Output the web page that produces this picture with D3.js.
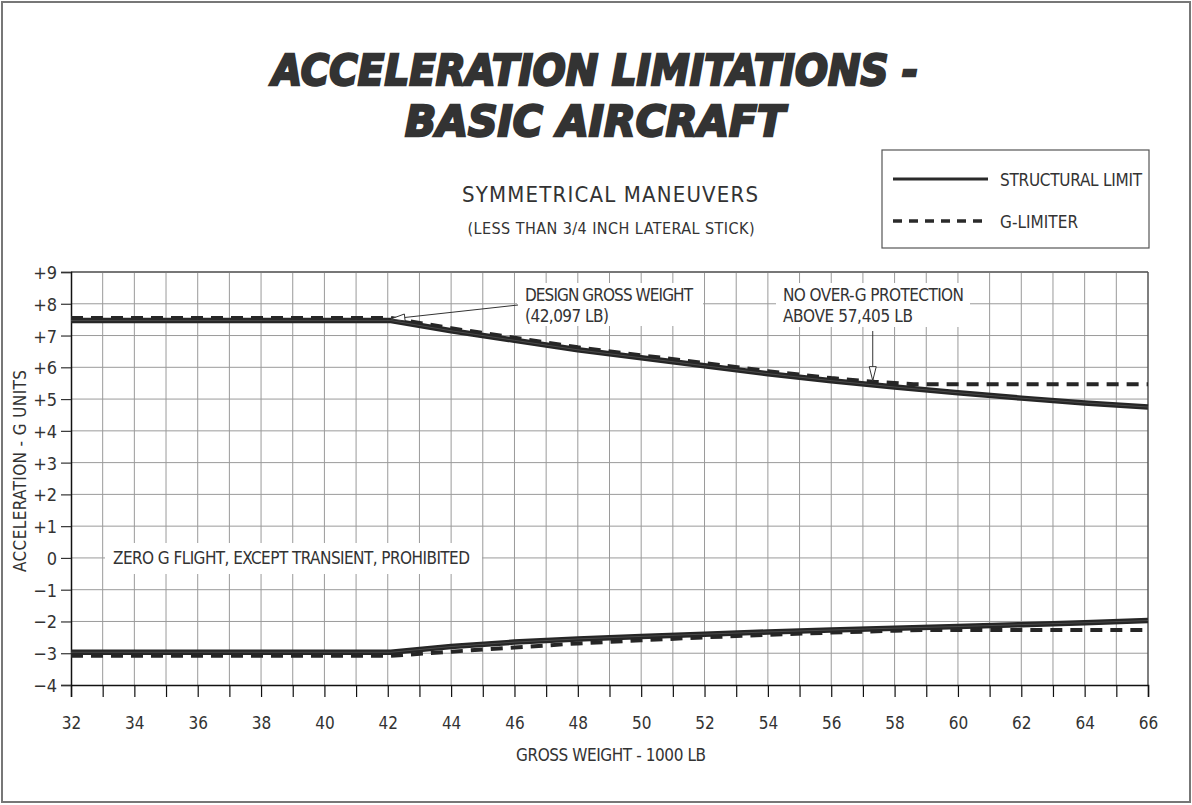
<!DOCTYPE html>
<html>
<head>
<meta charset="utf-8">
<script src="https://cdn.jsdelivr.net/npm/d3@7.9.0/dist/d3.min.js"></script>
<style>
  html, body { margin: 0; padding: 0; background: #fff; }
  svg text { font-family: 'Liberation Sans Narrow', 'DejaVu Sans Condensed', 'Roboto', sans-serif; fill: #333; }
</style>
</head>
<body>
<svg id="chart" width="1192" height="805"></svg>
<script>
// gross weight (1000 lb) vs load factor (g)
const structuralUpperW = [32, 42.1, 44, 46, 48, 50, 52, 54, 56, 58, 60, 62, 64, 66];
const structuralUpperG = [7.47, 7.47, 7.15, 6.85, 6.55, 6.3, 6.05, 5.8, 5.58, 5.38, 5.2, 5.03, 4.88, 4.75];

const limiterUpperW = [32, 42.1, 44, 46, 48, 50, 52, 54, 56, 57.4, 58.6, 66];
const limiterUpperG = [7.55, 7.55, 7.23, 6.93, 6.63, 6.38, 6.13, 5.88, 5.66, 5.54, 5.47, 5.47];

const structuralLowerW = [32, 42.1, 44, 46, 48, 50, 52, 54, 56, 58, 60, 62, 64, 66];
const structuralLowerG = [-2.97, -2.97, -2.79, -2.65, -2.55, -2.47, -2.4, -2.33, -2.27, -2.21, -2.16, -2.1, -2.04, -1.97];

const limiterLowerW = [32, 42.1, 44, 46, 48, 50, 52, 54, 56, 58, 59, 66];
const limiterLowerG = [-3.08, -3.08, -2.95, -2.82, -2.69, -2.59, -2.5, -2.42, -2.35, -2.29, -2.27, -2.27];

const xTicks = d3.range(32, 67, 2);
const yTicks = d3.range(-4, 10, 1);
const designGrossWeight = 42.097;
const overGLimitWeight = 57.405;

const svg = d3.select('#chart');
const width = 1192, height = 805;
const area = { left: 71, right: 1148, top: 272, bottom: 685 };

const x = d3.scaleLinear().domain([32, 66]).range([area.left, area.right]);
const y = d3.scaleLinear().domain([-4, 9]).range([area.bottom, area.top]);

// outer border
svg.append('rect')
  .attr('x', 2).attr('y', 2).attr('width', width - 4).attr('height', height - 5)
  .attr('fill', 'none').attr('stroke', '#777').attr('stroke-width', 2);

// title
const title = svg.append('g')
  .attr('font-weight', 'bold').attr('font-style', 'italic');
[['ACCELERATION  LIMITATIONS  -', 85, 646], ['BASIC  AIRCRAFT', 136, 380]].forEach(([t, ty, len]) => {
  title.append('text')
    .attr('x', 595).attr('y', ty)
    .attr('text-anchor', 'middle')
    .attr('textLength', len).attr('lengthAdjust', 'spacingAndGlyphs')
    .style('font-family', "'DejaVu Sans', sans-serif")
    .style('font-size', '43.5px')
    .style('fill', '#333').style('stroke', '#333').style('stroke-width', 2.5)
    .text(t);
});

svg.append('text')
  .attr('x', 610).attr('y', 202).attr('text-anchor', 'middle')
  .attr('textLength', 296).attr('lengthAdjust', 'spacing')
  .style('font-size', '22px').text('SYMMETRICAL MANEUVERS');
svg.append('text')
  .attr('x', 611).attr('y', 234).attr('text-anchor', 'middle')
  .attr('textLength', 287).attr('lengthAdjust', 'spacing')
  .style('font-size', '16px').text('(LESS THAN 3/4 INCH LATERAL STICK)');

// legend
const legend = svg.append('g');
legend.append('rect')
  .attr('x', 882).attr('y', 150).attr('width', 267).attr('height', 98)
  .attr('fill', '#fff').attr('stroke', '#555').attr('stroke-width', 1.2);
legend.append('line').attr('x1', 893).attr('x2', 988).attr('y1', 179).attr('y2', 179)
  .attr('stroke', '#2a2a2a').attr('stroke-width', 3);
legend.append('line').attr('x1', 893).attr('x2', 988).attr('y1', 221).attr('y2', 221)
  .attr('stroke', '#2a2a2a').attr('stroke-width', 3.5).attr('stroke-dasharray', '9,7');
legend.append('text').attr('x', 1000).attr('y', 186)
  .attr('textLength', 142).attr('lengthAdjust', 'spacing')
  .style('font-size', '17px').text('STRUCTURAL LIMIT');
legend.append('text').attr('x', 1000).attr('y', 228)
  .attr('textLength', 78).attr('lengthAdjust', 'spacing')
  .style('font-size', '17px').text('G-LIMITER');

// grid
const grid = svg.append('g').attr('stroke', '#9a9a9a').attr('stroke-width', 1);
grid.selectAll('line.v')
  .data(d3.range(33, 66, 1))
  .join('line')
  .attr('class', 'v')
  .attr('x1', d => x(d)).attr('x2', d => x(d))
  .attr('y1', area.top).attr('y2', area.bottom);
grid.selectAll('line.h')
  .data(d3.range(-3, 9, 1))
  .join('line')
  .attr('class', 'h')
  .attr('x1', area.left).attr('x2', area.right)
  .attr('y1', d => y(d)).attr('y2', d => y(d));

// frame: top and right in gray
svg.append('line').attr('x1', area.left).attr('x2', area.right)
  .attr('y1', area.top).attr('y2', area.top)
  .attr('stroke', '#777').attr('stroke-width', 2);
svg.append('line').attr('x1', area.right).attr('x2', area.right)
  .attr('y1', area.top).attr('y2', area.bottom)
  .attr('stroke', '#555').attr('stroke-width', 1.5);

// white boxes behind annotation text (they break the grid)
const boxes = [
  [517, 283, 186, 43],
  [776, 283, 194, 44],
  [105, 543, 377, 31],
];
svg.append('g').selectAll('rect')
  .data(boxes)
  .join('rect')
  .attr('x', d => d[0]).attr('y', d => d[1])
  .attr('width', d => d[2]).attr('height', d => d[3])
  .attr('fill', '#fff');

// axes
const xAxis = svg.append('g')
  .attr('transform', `translate(0,${area.bottom})`)
  .call(d3.axisBottom(x).tickValues(d3.range(32, 67, 1)).tickSize(12).tickFormat(d => xTicks.includes(d) ? d : ''));
xAxis.select('.domain').attr('stroke', '#111').attr('stroke-width', 1.5);
xAxis.selectAll('.tick line').attr('stroke', '#111').attr('stroke-width', 1.2);
xAxis.selectAll('.tick text')
  .attr('dy', 0).attr('y', 44)
  .style('font-size', '17px').style('fill', '#333');

const yAxis = svg.append('g')
  .attr('transform', `translate(${area.left},0)`)
  .call(d3.axisLeft(y).tickValues(yTicks).tickSize(10)
    .tickFormat(d => d > 0 ? '+' + d : d < 0 ? '\u2212' + Math.abs(d) : '0'));
yAxis.select('.domain').attr('stroke', '#111').attr('stroke-width', 1.5);
yAxis.selectAll('.tick line').attr('stroke', '#333').attr('stroke-width', 1.2);
yAxis.selectAll('.tick text')
  .attr('x', -14).attr('dy', '0.36em')
  .style('font-size', '18px').style('fill', '#333');

svg.append('text')
  .attr('transform', `translate(26,471) rotate(-90)`)
  .attr('text-anchor', 'middle')
  .attr('textLength', 202).attr('lengthAdjust', 'spacing')
  .style('font-size', '17px').text('ACCELERATION - G UNITS');
svg.append('text')
  .attr('x', 611).attr('y', 761).attr('text-anchor', 'middle')
  .attr('textLength', 190).attr('lengthAdjust', 'spacing')
  .style('font-size', '17px').text('GROSS WEIGHT - 1000 LB');

// curves
const line = d3.line().x(d => x(d[0])).y(d => y(d[1]));
const zip = (w, g) => w.map((v, i) => [v, g[i]]);
const curves = svg.append('g').attr('fill', 'none').attr('stroke', '#262626');
[[limiterUpperW, limiterUpperG], [limiterLowerW, limiterLowerG]].forEach(([w, g]) => {
  curves.append('path').attr('d', line(zip(w, g)))
    .attr('stroke-width', 4).attr('stroke-dasharray', '12,8');
});
[[structuralUpperW, structuralUpperG], [structuralLowerW, structuralLowerG]].forEach(([w, g]) => {
  curves.append('path').attr('d', line(zip(w, g)))
    .attr('stroke-width', 5.5);
  curves.append('path').attr('d', line(zip(w, g)))
    .attr('stroke', '#4a4a4a').attr('stroke-width', 1);
});

// annotations
const openArrow = (g, x1, y1, x2, y2) => {
  g.append('line').attr('x1', x1).attr('y1', y1).attr('x2', x2).attr('y2', y2)
    .attr('stroke', '#333').attr('stroke-width', 1);
  const ang = Math.atan2(y2 - y1, x2 - x1);
  const L = 14, W = 3.5;
  const bx = x2 - L * Math.cos(ang), by = y2 - L * Math.sin(ang);
  const px = -Math.sin(ang) * W, py = Math.cos(ang) * W;
  g.append('path')
    .attr('d', `M${x2},${y2}L${bx + px},${by + py}L${bx - px},${by - py}Z`)
    .attr('fill', '#fff').attr('stroke', '#333').attr('stroke-width', 1);
};
const notes = svg.append('g');
openArrow(notes, 518, 305, x(designGrossWeight), y(7.52));
openArrow(notes, x(overGLimitWeight) - 3, 331, x(overGLimitWeight) - 3, y(5.58));

const noteText = (tx, ty, t, len) => notes.append('text')
  .attr('x', tx).attr('y', ty)
  .attr('textLength', len).attr('lengthAdjust', 'spacing')
  .style('font-size', '17px').text(t);
noteText(525, 301, 'DESIGN GROSS WEIGHT', 168);
noteText(525, 322, '(42,097 LB)', 84);
noteText(783, 301, 'NO OVER-G PROTECTION', 181);
noteText(783, 322, 'ABOVE 57,405 LB', 130);
noteText(113, 564, 'ZERO G FLIGHT, EXCEPT TRANSIENT, PROHIBITED', 357);
</script>
</body>
</html>
